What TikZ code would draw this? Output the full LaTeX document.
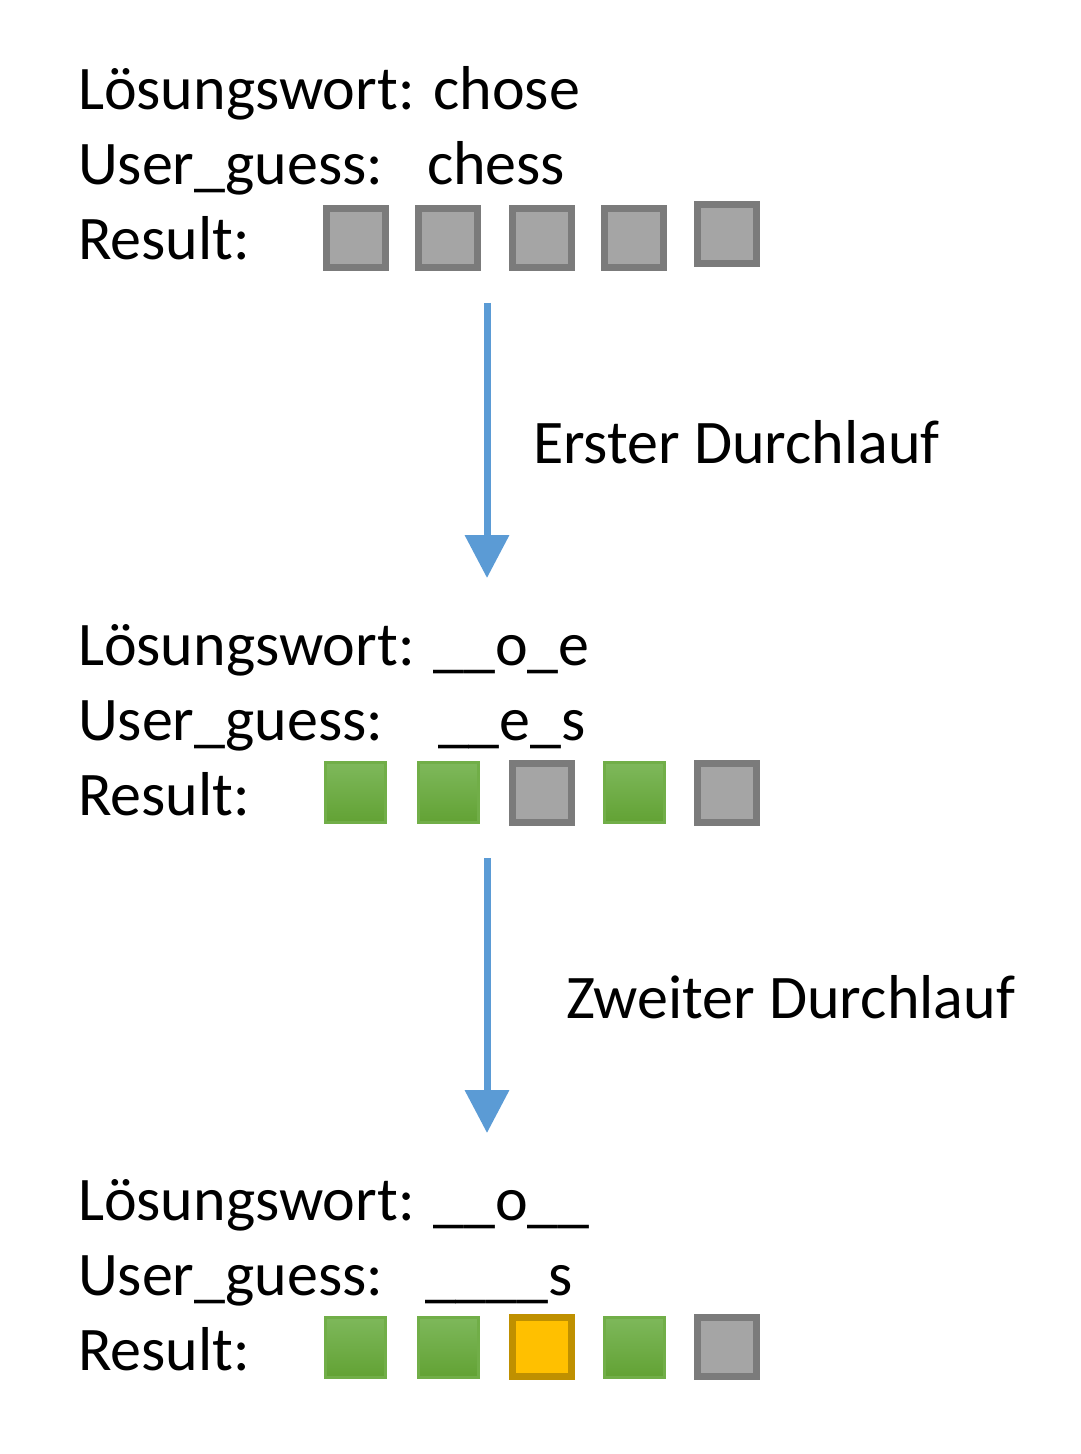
\documentclass[tikz,border=0pt]{standalone}
\usepackage{fontspec}
\setmainfont{Carlito}
\usetikzlibrary{arrows.meta}
\definecolor{grayfill}{HTML}{A5A5A5}
\definecolor{graydraw}{HTML}{7B7B7B}
\definecolor{greentop}{HTML}{7EB85B}
\definecolor{greenbot}{HTML}{62A234}
\definecolor{greendraw}{HTML}{71AE48}
\definecolor{yelfill}{HTML}{FFC000}
\definecolor{yeldraw}{HTML}{BF9000}
\definecolor{arrowblue}{HTML}{5B9BD5}
\tikzset{
  txt/.style={anchor=base west, inner sep=0pt, outer sep=0pt, font=\fontsize{31}{37.8}\selectfont},
  graybox/.style={draw=graydraw, fill=grayfill, line width=3.5pt, minimum size=29.5pt, inner sep=0pt, outer sep=0pt},
  greenbox/.style={draw=greendraw, top color=greentop, bottom color=greenbot, line width=1.5pt, minimum size=30pt, inner sep=0pt, outer sep=0pt},
  yelbox/.style={draw=yeldraw, fill=yelfill, line width=3.5pt, minimum size=29.5pt, inner sep=0pt, outer sep=0pt},
  flow/.style={draw=arrowblue, line width=3.5pt, -{Triangle[length=21.5pt,width=21.5pt]}}
}
\begin{document}
\begin{tikzpicture}[x=0.5pt,y=-0.5pt]
\useasboundingbox (0,0) rectangle (1080,1454);
% block 1
\node[txt] (l1) at (78,110) {Lösungswort: chose};
\node[txt] (u1) at (78,185) {User\_guess:};
\node[txt] (u1v) at (427,185) {chess};
\node[txt] (r1) at (78,260) {Result:};
\node[graybox] (b11) at (355.5,238) {};
\node[graybox] (b12) at (448,238) {};
\node[graybox] (b13) at (542,238) {};
\node[graybox] (b14) at (634,238) {};
\node[graybox] (b15) at (727,234.5) {};
% arrow 1
\coordinate (a1s) at (487,303);
\coordinate (a1e) at (487,578);
\draw[flow] (a1s) -- (a1e);
\node[txt] (t1) at (533,463) {Erster Durchlauf};
% block 2
\node[txt] (l2) at (78,665) {Lösungswort: \_\_o\_e};
\node[txt] (u2) at (78,740) {User\_guess:};
\node[txt] (u2v) at (438,740) {\_\_e\_s};
\node[txt] (r2) at (78,815) {Result:};
\node[greenbox] (b21) at (355.5,792.5) {};
\node[greenbox] (b22) at (448,792.5) {};
\node[graybox] (b23) at (542,792.5) {};
\node[greenbox] (b24) at (634.5,792.5) {};
\node[graybox] (b25) at (727,792.5) {};
% arrow 2
\coordinate (a2s) at (487,858);
\coordinate (a2e) at (487,1133);
\draw[flow] (a2s) -- (a2e);
\node[txt] (t2) at (566,1018) {Zweiter Durchlauf};
% block 3
\node[txt] (l3) at (78,1220) {Lösungswort: \_\_o\_\_};
\node[txt] (u3) at (78,1295) {User\_guess:};
\node[txt] (u3v) at (425,1295) {\_\_\_\_s};
\node[txt] (r3) at (78,1370) {Result:};
\node[greenbox] (b31) at (355.5,1347) {};
\node[greenbox] (b32) at (448,1347) {};
\node[yelbox] (b33) at (542,1347) {};
\node[greenbox] (b34) at (634.5,1347) {};
\node[graybox] (b35) at (727,1347) {};
\end{tikzpicture}
\end{document}
